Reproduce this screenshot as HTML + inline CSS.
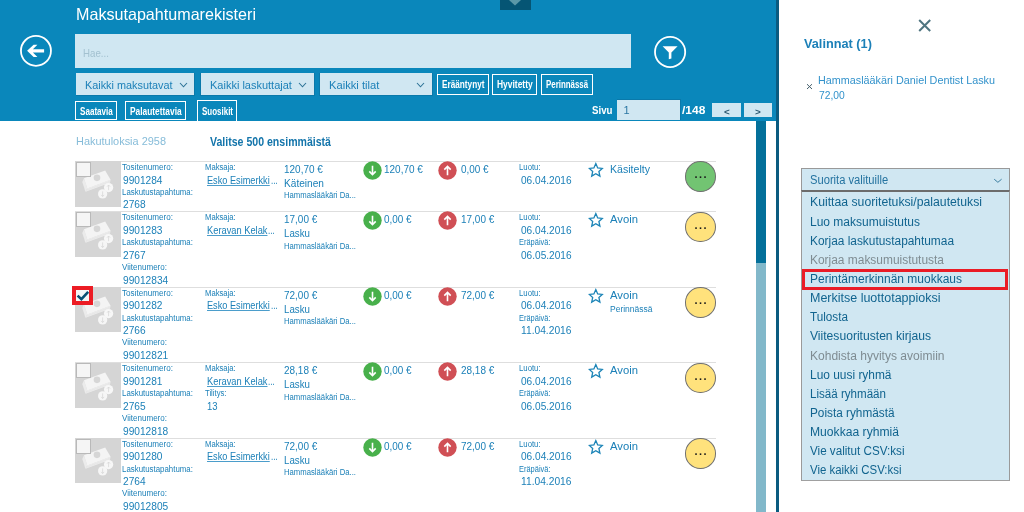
<!DOCTYPE html><html><head><meta charset="utf-8"><title>Maksutapahtumarekisteri</title><style>
html,body{margin:0;padding:0;background:#fff}body{width:1024px;height:512px;position:relative;overflow:hidden;font-family:"Liberation Sans", sans-serif}
</style></head><body>
<div style="position:absolute;left:0;top:0;width:776px;height:121px;background:#0a87bb"></div>
<div style="position:absolute;left:776px;top:0;width:2.6px;height:512px;background:#0a5b80"></div>
<div style="position:absolute;left:500px;top:0;width:31px;height:10.3px;background:#055574"></div>
<svg style="position:absolute;left:500px;top:0" width="31" height="10"><path d="M9 0 L15 5.6 L21 0Z" fill="#5b98a8"/></svg>
<svg style="position:absolute;left:18px;top:33px" width="36" height="36" viewBox="0 0 36 36"><circle cx="17.95" cy="17.85" r="15" fill="none" stroke="#fff" stroke-width="1.8"/><path d="M9.1 17.85 L15.6 11.8 H19.4 L14.9 16.2 H26.1 V19.5 H14.9 L19.4 23.9 H15.6Z" fill="#fff"/></svg>
<div style="position:absolute;left:75px;top:34px;width:556.3px;height:34px;background:#d0e7f2"></div>
<svg style="position:absolute;left:652px;top:34px" width="36" height="36" viewBox="0 0 36 36"><circle cx="18.1" cy="17.95" r="15.1" fill="none" stroke="#fff" stroke-width="1.8"/><path d="M10.6 12.2 H25.6 L19.4 18.5 V24.5 L16.8 25.2 V18.5Z" fill="#fff"/></svg>
<div style="position:absolute;left:75.60000000000001px;top:72.5px;width:119.69999999999999px;height:23px;background:#0a79aa"></div>
<div style="position:absolute;left:76.4px;top:73.3px;width:118.1px;height:21.5px;background:#d0e7f2"></div>
<svg style="position:absolute;left:178.75px;top:82px" width="10" height="7"><path d="M1 1 L4.5 4.8 L8 1" fill="none" stroke="#2d7397" stroke-width="1.1"/></svg>
<div style="position:absolute;left:200.2px;top:72.5px;width:114.49999999999997px;height:23px;background:#0a79aa"></div>
<div style="position:absolute;left:201px;top:73.3px;width:112.89999999999998px;height:21.5px;background:#d0e7f2"></div>
<svg style="position:absolute;left:297.9px;top:82px" width="10" height="7"><path d="M1 1 L4.5 4.8 L8 1" fill="none" stroke="#2d7397" stroke-width="1.1"/></svg>
<div style="position:absolute;left:319.3px;top:72.5px;width:113.24999999999997px;height:23px;background:#0a79aa"></div>
<div style="position:absolute;left:320.1px;top:73.3px;width:111.64999999999998px;height:21.5px;background:#d0e7f2"></div>
<svg style="position:absolute;left:415.75px;top:82px" width="10" height="7"><path d="M1 1 L4.5 4.8 L8 1" fill="none" stroke="#2d7397" stroke-width="1.1"/></svg>
<div style="position:absolute;left:437px;top:74px;width:51.5px;height:20.700000000000003px;box-sizing:border-box;border:1px solid #fff"></div>
<div style="position:absolute;left:492.3px;top:74px;width:44.80000000000001px;height:20.700000000000003px;box-sizing:border-box;border:1px solid #fff"></div>
<div style="position:absolute;left:541px;top:74px;width:51.799999999999955px;height:20.700000000000003px;box-sizing:border-box;border:1px solid #fff"></div>
<div style="position:absolute;left:75.1px;top:101.1px;width:41.900000000000006px;height:18.900000000000006px;box-sizing:border-box;border:1px solid #fff"></div>
<div style="position:absolute;left:124.9px;top:101.1px;width:61.0px;height:18.900000000000006px;box-sizing:border-box;border:1px solid #fff"></div>
<div style="position:absolute;left:197.25px;top:100.2px;width:40px;height:21.5px;box-sizing:border-box;border:1.5px solid #fff;border-bottom:none"></div>
<div style="position:absolute;left:616.5px;top:99.3px;width:64.3px;height:21px;background:#0a79aa"></div>
<div style="position:absolute;left:617.3px;top:100px;width:62.8px;height:19.6px;background:#d0e7f2"></div>
<div style="position:absolute;left:712px;top:102.6px;width:28.6px;height:14.8px;background:#d0e7f2"></div>
<div style="position:absolute;left:743.8px;top:102.6px;width:28.7px;height:14.8px;background:#d0e7f2"></div>
<div style="position:absolute;left:756px;top:121px;width:10px;height:142px;background:#04709a"></div>
<div style="position:absolute;left:756px;top:263px;width:10px;height:249px;background:#82b8ca"></div>
<div style="position:absolute;left:75px;top:160.75px;width:640.6px;height:1px;background:#dedede"></div>
<div style="position:absolute;left:75px;top:161.35px;width:45.6px;height:45.3px;background:#d5d5d5"><svg style="position:absolute;left:0;top:0" width="46" height="46" viewBox="0 0 45.6 45.4">
<path d="M8.9 17.1 L7.2 20.6 L10.4 30.4 L12.2 27.2Z" fill="#ebebeb"/>
<path d="M12.2 27.2 L35.3 18.6 L34.6 21.4 L10.4 30.4Z" fill="#f0f0f0"/>
<path d="M11.6 28.3 L35 19.6 M11 29.4 L34.8 20.6" stroke="#dddddd" stroke-width="0.4" fill="none"/>
<path d="M8.9 17.1 L29.9 9.4 L35.3 18.6 L12.2 27.2Z" fill="#f4f4f4"/>
<circle cx="21.8" cy="16.6" r="3.3" fill="#d6d6d6"/>
<circle cx="27.4" cy="32.5" r="4.6" fill="#f6f6f6"/>
<circle cx="33.3" cy="26.2" r="4.6" fill="#f7f7f7"/>
<path d="M33.3 28.8 V23.8 M31.8 25.3 L33.3 23.7 L34.8 25.3" stroke="#d8d8d8" stroke-width="0.8" fill="none"/>
<path d="M27.4 30 V35 M25.9 33.5 L27.4 35.1 L28.9 33.5" stroke="#d8d8d8" stroke-width="0.8" fill="none"/>
</svg></div>
<div style="position:absolute;left:75.5px;top:161.95px;width:15.3px;height:15px;box-sizing:border-box;border:1.6px solid #b9b9b9;background:#f5f5f5"></div>
<svg style="position:absolute;left:362.7px;top:160.8px" width="19" height="19" viewBox="0 0 19 19"><circle cx="9.5" cy="9.5" r="9.2" fill="#48b04b"/><path d="M9.5 4.8 V13.8 M6.3 10.4 L9.5 13.7 L12.7 10.4" stroke="#fff" stroke-width="1.6" fill="none"/></svg>
<svg style="position:absolute;left:438.25px;top:160.8px" width="19" height="19" viewBox="0 0 19 19"><circle cx="9.5" cy="9.5" r="9.2" fill="#d04f55"/><path d="M9.5 14.2 V5.2 M6.3 8.6 L9.5 5.3 L12.7 8.6" stroke="#fff" stroke-width="1.6" fill="none"/></svg>
<svg style="position:absolute;left:588px;top:162.05px" width="16" height="16" viewBox="0 0 16 16"><path d="M7.8 1.6 L9.7 5.9 L14.3 6.4 L10.9 9.5 L11.9 14.1 L7.8 11.7 L3.7 14.1 L4.7 9.5 L1.3 6.4 L5.9 5.9Z" fill="none" stroke="#1b84b7" stroke-width="1.3" stroke-linejoin="miter"/></svg>
<div style="position:absolute;left:685px;top:161.35px;width:30.8px;height:30.6px;box-sizing:border-box;border:1px solid #707070;border-radius:50%;background:#72c472"></div>
<div style="position:absolute;left:75px;top:211.1px;width:640.6px;height:1px;background:#dedede"></div>
<div style="position:absolute;left:75px;top:211.7px;width:45.6px;height:45.3px;background:#d5d5d5"><svg style="position:absolute;left:0;top:0" width="46" height="46" viewBox="0 0 45.6 45.4">
<path d="M8.9 17.1 L7.2 20.6 L10.4 30.4 L12.2 27.2Z" fill="#ebebeb"/>
<path d="M12.2 27.2 L35.3 18.6 L34.6 21.4 L10.4 30.4Z" fill="#f0f0f0"/>
<path d="M11.6 28.3 L35 19.6 M11 29.4 L34.8 20.6" stroke="#dddddd" stroke-width="0.4" fill="none"/>
<path d="M8.9 17.1 L29.9 9.4 L35.3 18.6 L12.2 27.2Z" fill="#f4f4f4"/>
<circle cx="21.8" cy="16.6" r="3.3" fill="#d6d6d6"/>
<circle cx="27.4" cy="32.5" r="4.6" fill="#f6f6f6"/>
<circle cx="33.3" cy="26.2" r="4.6" fill="#f7f7f7"/>
<path d="M33.3 28.8 V23.8 M31.8 25.3 L33.3 23.7 L34.8 25.3" stroke="#d8d8d8" stroke-width="0.8" fill="none"/>
<path d="M27.4 30 V35 M25.9 33.5 L27.4 35.1 L28.9 33.5" stroke="#d8d8d8" stroke-width="0.8" fill="none"/>
</svg></div>
<div style="position:absolute;left:75.5px;top:212.29999999999998px;width:15.3px;height:15px;box-sizing:border-box;border:1.6px solid #b9b9b9;background:#f5f5f5"></div>
<svg style="position:absolute;left:362.7px;top:211.15px" width="19" height="19" viewBox="0 0 19 19"><circle cx="9.5" cy="9.5" r="9.2" fill="#48b04b"/><path d="M9.5 4.8 V13.8 M6.3 10.4 L9.5 13.7 L12.7 10.4" stroke="#fff" stroke-width="1.6" fill="none"/></svg>
<svg style="position:absolute;left:438.25px;top:211.15px" width="19" height="19" viewBox="0 0 19 19"><circle cx="9.5" cy="9.5" r="9.2" fill="#d04f55"/><path d="M9.5 14.2 V5.2 M6.3 8.6 L9.5 5.3 L12.7 8.6" stroke="#fff" stroke-width="1.6" fill="none"/></svg>
<svg style="position:absolute;left:588px;top:212.4px" width="16" height="16" viewBox="0 0 16 16"><path d="M7.8 1.6 L9.7 5.9 L14.3 6.4 L10.9 9.5 L11.9 14.1 L7.8 11.7 L3.7 14.1 L4.7 9.5 L1.3 6.4 L5.9 5.9Z" fill="none" stroke="#1b84b7" stroke-width="1.3" stroke-linejoin="miter"/></svg>
<div style="position:absolute;left:685px;top:211.7px;width:30.8px;height:30.6px;box-sizing:border-box;border:1px solid #707070;border-radius:50%;background:#ffe27c"></div>
<div style="position:absolute;left:75px;top:286.6px;width:640.6px;height:1px;background:#dedede"></div>
<div style="position:absolute;left:75px;top:287.20000000000005px;width:45.6px;height:45.3px;background:#d5d5d5"><svg style="position:absolute;left:0;top:0" width="46" height="46" viewBox="0 0 45.6 45.4">
<path d="M8.9 17.1 L7.2 20.6 L10.4 30.4 L12.2 27.2Z" fill="#ebebeb"/>
<path d="M12.2 27.2 L35.3 18.6 L34.6 21.4 L10.4 30.4Z" fill="#f0f0f0"/>
<path d="M11.6 28.3 L35 19.6 M11 29.4 L34.8 20.6" stroke="#dddddd" stroke-width="0.4" fill="none"/>
<path d="M8.9 17.1 L29.9 9.4 L35.3 18.6 L12.2 27.2Z" fill="#f4f4f4"/>
<circle cx="21.8" cy="16.6" r="3.3" fill="#d6d6d6"/>
<circle cx="27.4" cy="32.5" r="4.6" fill="#f6f6f6"/>
<circle cx="33.3" cy="26.2" r="4.6" fill="#f7f7f7"/>
<path d="M33.3 28.8 V23.8 M31.8 25.3 L33.3 23.7 L34.8 25.3" stroke="#d8d8d8" stroke-width="0.8" fill="none"/>
<path d="M27.4 30 V35 M25.9 33.5 L27.4 35.1 L28.9 33.5" stroke="#d8d8d8" stroke-width="0.8" fill="none"/>
</svg></div>
<div style="position:absolute;left:72.1px;top:285.90000000000003px;width:20.8px;height:19px;box-sizing:border-box;border:4px solid #ec1c24;background:#f4f6f6"></div>
<svg style="position:absolute;left:72px;top:285.90000000000003px" width="21" height="19" viewBox="0 0 21 19"><path d="M5.6 9.6 L9.4 13.2 L16.2 5.9" fill="none" stroke="#0a4f72" stroke-width="2.6"/></svg>
<svg style="position:absolute;left:362.7px;top:286.65000000000003px" width="19" height="19" viewBox="0 0 19 19"><circle cx="9.5" cy="9.5" r="9.2" fill="#48b04b"/><path d="M9.5 4.8 V13.8 M6.3 10.4 L9.5 13.7 L12.7 10.4" stroke="#fff" stroke-width="1.6" fill="none"/></svg>
<svg style="position:absolute;left:438.25px;top:286.65000000000003px" width="19" height="19" viewBox="0 0 19 19"><circle cx="9.5" cy="9.5" r="9.2" fill="#d04f55"/><path d="M9.5 14.2 V5.2 M6.3 8.6 L9.5 5.3 L12.7 8.6" stroke="#fff" stroke-width="1.6" fill="none"/></svg>
<svg style="position:absolute;left:588px;top:287.90000000000003px" width="16" height="16" viewBox="0 0 16 16"><path d="M7.8 1.6 L9.7 5.9 L14.3 6.4 L10.9 9.5 L11.9 14.1 L7.8 11.7 L3.7 14.1 L4.7 9.5 L1.3 6.4 L5.9 5.9Z" fill="none" stroke="#1b84b7" stroke-width="1.3" stroke-linejoin="miter"/></svg>
<div style="position:absolute;left:685px;top:287.20000000000005px;width:30.8px;height:30.6px;box-sizing:border-box;border:1px solid #707070;border-radius:50%;background:#ffe27c"></div>
<div style="position:absolute;left:75px;top:362.1px;width:640.6px;height:1px;background:#dedede"></div>
<div style="position:absolute;left:75px;top:362.70000000000005px;width:45.6px;height:45.3px;background:#d5d5d5"><svg style="position:absolute;left:0;top:0" width="46" height="46" viewBox="0 0 45.6 45.4">
<path d="M8.9 17.1 L7.2 20.6 L10.4 30.4 L12.2 27.2Z" fill="#ebebeb"/>
<path d="M12.2 27.2 L35.3 18.6 L34.6 21.4 L10.4 30.4Z" fill="#f0f0f0"/>
<path d="M11.6 28.3 L35 19.6 M11 29.4 L34.8 20.6" stroke="#dddddd" stroke-width="0.4" fill="none"/>
<path d="M8.9 17.1 L29.9 9.4 L35.3 18.6 L12.2 27.2Z" fill="#f4f4f4"/>
<circle cx="21.8" cy="16.6" r="3.3" fill="#d6d6d6"/>
<circle cx="27.4" cy="32.5" r="4.6" fill="#f6f6f6"/>
<circle cx="33.3" cy="26.2" r="4.6" fill="#f7f7f7"/>
<path d="M33.3 28.8 V23.8 M31.8 25.3 L33.3 23.7 L34.8 25.3" stroke="#d8d8d8" stroke-width="0.8" fill="none"/>
<path d="M27.4 30 V35 M25.9 33.5 L27.4 35.1 L28.9 33.5" stroke="#d8d8d8" stroke-width="0.8" fill="none"/>
</svg></div>
<div style="position:absolute;left:75.5px;top:363.3px;width:15.3px;height:15px;box-sizing:border-box;border:1.6px solid #b9b9b9;background:#f5f5f5"></div>
<svg style="position:absolute;left:362.7px;top:362.15000000000003px" width="19" height="19" viewBox="0 0 19 19"><circle cx="9.5" cy="9.5" r="9.2" fill="#48b04b"/><path d="M9.5 4.8 V13.8 M6.3 10.4 L9.5 13.7 L12.7 10.4" stroke="#fff" stroke-width="1.6" fill="none"/></svg>
<svg style="position:absolute;left:438.25px;top:362.15000000000003px" width="19" height="19" viewBox="0 0 19 19"><circle cx="9.5" cy="9.5" r="9.2" fill="#d04f55"/><path d="M9.5 14.2 V5.2 M6.3 8.6 L9.5 5.3 L12.7 8.6" stroke="#fff" stroke-width="1.6" fill="none"/></svg>
<svg style="position:absolute;left:588px;top:363.40000000000003px" width="16" height="16" viewBox="0 0 16 16"><path d="M7.8 1.6 L9.7 5.9 L14.3 6.4 L10.9 9.5 L11.9 14.1 L7.8 11.7 L3.7 14.1 L4.7 9.5 L1.3 6.4 L5.9 5.9Z" fill="none" stroke="#1b84b7" stroke-width="1.3" stroke-linejoin="miter"/></svg>
<div style="position:absolute;left:685px;top:362.70000000000005px;width:30.8px;height:30.6px;box-sizing:border-box;border:1px solid #707070;border-radius:50%;background:#ffe27c"></div>
<div style="position:absolute;left:75px;top:437.6px;width:640.6px;height:1px;background:#dedede"></div>
<div style="position:absolute;left:75px;top:438.20000000000005px;width:45.6px;height:45.3px;background:#d5d5d5"><svg style="position:absolute;left:0;top:0" width="46" height="46" viewBox="0 0 45.6 45.4">
<path d="M8.9 17.1 L7.2 20.6 L10.4 30.4 L12.2 27.2Z" fill="#ebebeb"/>
<path d="M12.2 27.2 L35.3 18.6 L34.6 21.4 L10.4 30.4Z" fill="#f0f0f0"/>
<path d="M11.6 28.3 L35 19.6 M11 29.4 L34.8 20.6" stroke="#dddddd" stroke-width="0.4" fill="none"/>
<path d="M8.9 17.1 L29.9 9.4 L35.3 18.6 L12.2 27.2Z" fill="#f4f4f4"/>
<circle cx="21.8" cy="16.6" r="3.3" fill="#d6d6d6"/>
<circle cx="27.4" cy="32.5" r="4.6" fill="#f6f6f6"/>
<circle cx="33.3" cy="26.2" r="4.6" fill="#f7f7f7"/>
<path d="M33.3 28.8 V23.8 M31.8 25.3 L33.3 23.7 L34.8 25.3" stroke="#d8d8d8" stroke-width="0.8" fill="none"/>
<path d="M27.4 30 V35 M25.9 33.5 L27.4 35.1 L28.9 33.5" stroke="#d8d8d8" stroke-width="0.8" fill="none"/>
</svg></div>
<div style="position:absolute;left:75.5px;top:438.8px;width:15.3px;height:15px;box-sizing:border-box;border:1.6px solid #b9b9b9;background:#f5f5f5"></div>
<svg style="position:absolute;left:362.7px;top:437.65000000000003px" width="19" height="19" viewBox="0 0 19 19"><circle cx="9.5" cy="9.5" r="9.2" fill="#48b04b"/><path d="M9.5 4.8 V13.8 M6.3 10.4 L9.5 13.7 L12.7 10.4" stroke="#fff" stroke-width="1.6" fill="none"/></svg>
<svg style="position:absolute;left:438.25px;top:437.65000000000003px" width="19" height="19" viewBox="0 0 19 19"><circle cx="9.5" cy="9.5" r="9.2" fill="#d04f55"/><path d="M9.5 14.2 V5.2 M6.3 8.6 L9.5 5.3 L12.7 8.6" stroke="#fff" stroke-width="1.6" fill="none"/></svg>
<svg style="position:absolute;left:588px;top:438.90000000000003px" width="16" height="16" viewBox="0 0 16 16"><path d="M7.8 1.6 L9.7 5.9 L14.3 6.4 L10.9 9.5 L11.9 14.1 L7.8 11.7 L3.7 14.1 L4.7 9.5 L1.3 6.4 L5.9 5.9Z" fill="none" stroke="#1b84b7" stroke-width="1.3" stroke-linejoin="miter"/></svg>
<div style="position:absolute;left:685px;top:438.20000000000005px;width:30.8px;height:30.6px;box-sizing:border-box;border:1px solid #707070;border-radius:50%;background:#ffe27c"></div>
<svg style="position:absolute;left:916px;top:17px" width="18" height="18"><path d="M3.2 3 L14.2 14 M14.2 3 L3.2 14" stroke="#4f7580" stroke-width="2" fill="none"/></svg>
<svg style="position:absolute;left:806px;top:83px" width="8" height="8"><path d="M1 1.2 L6 6 M6 1.2 L1 6" stroke="#46606c" stroke-width="1" fill="none"/></svg>
<div style="position:absolute;left:801px;top:168px;width:209px;height:23px;background:#d0e7f2;box-sizing:border-box;border:1px solid #999"></div>
<svg style="position:absolute;left:992.5px;top:177.5px" width="10" height="6"><path d="M1.2 1.2 L4.9 4.3 L8.6 1.2" fill="none" stroke="#2d7397" stroke-width="0.9"/></svg>
<div style="position:absolute;left:801px;top:190px;width:209px;height:291px;background:#d0e7f2;box-sizing:border-box;border:1px solid #9a9a9a;border-top:2px solid #6c6c6c;border-bottom:1.5px solid #a0a0a0"></div>
<div style="position:absolute;left:802.2px;top:268.7px;width:206px;height:21.3px;box-sizing:border-box;border:3px solid #ea1c26"></div>
<span style="position:absolute;white-space:pre;left:76px;top:4px;font-size:16.5px;line-height:20px;color:#ffffff;font-weight:400;transform-origin:0 0;transform:scaleX(0.9765);">Maksutapahtumarekisteri</span>
<span style="position:absolute;white-space:pre;left:82.6px;top:43px;font-size:11px;line-height:20px;color:#a3c1d0;font-weight:400;transform-origin:0 0;transform:scaleX(0.8822);">Hae...</span>
<span style="position:absolute;white-space:pre;left:84.5px;top:75px;font-size:11.5px;line-height:20px;color:#1c80b8;font-weight:400;transform-origin:0 0;transform:scaleX(0.9440);">Kaikki maksutavat</span>
<span style="position:absolute;white-space:pre;left:209.5px;top:75px;font-size:11.5px;line-height:20px;color:#1c80b8;font-weight:400;transform-origin:0 0;transform:scaleX(0.9561);">Kaikki laskuttajat</span>
<span style="position:absolute;white-space:pre;left:328.6px;top:75px;font-size:11.5px;line-height:20px;color:#1c80b8;font-weight:400;transform-origin:0 0;transform:scaleX(0.9714);">Kaikki tilat</span>
<span style="position:absolute;white-space:pre;left:442px;top:75px;font-size:10px;line-height:20px;color:#ffffff;font-weight:700;transform-origin:0 0;transform:scaleX(0.8222);">Erääntynyt</span>
<span style="position:absolute;white-space:pre;left:497.3px;top:75px;font-size:10px;line-height:20px;color:#ffffff;font-weight:700;transform-origin:0 0;transform:scaleX(0.8450);">Hyvitetty</span>
<span style="position:absolute;white-space:pre;left:546px;top:75px;font-size:10px;line-height:20px;color:#ffffff;font-weight:700;transform-origin:0 0;transform:scaleX(0.7888);">Perinnässä</span>
<span style="position:absolute;white-space:pre;left:79.75px;top:102px;font-size:10px;line-height:20px;color:#ffffff;font-weight:700;transform-origin:0 0;transform:scaleX(0.8092);">Saatavia</span>
<span style="position:absolute;white-space:pre;left:129.75px;top:102px;font-size:10px;line-height:20px;color:#ffffff;font-weight:700;transform-origin:0 0;transform:scaleX(0.8371);">Palautettavia</span>
<span style="position:absolute;white-space:pre;left:202px;top:102px;font-size:10px;line-height:20px;color:#ffffff;font-weight:700;transform-origin:0 0;transform:scaleX(0.7968);">Suosikit</span>
<span style="position:absolute;white-space:pre;left:591.8px;top:100px;font-size:11px;line-height:20px;color:#ffffff;font-weight:700;transform-origin:0 0;transform:scaleX(0.8823);">Sivu</span>
<span style="position:absolute;white-space:pre;left:623.4px;top:100px;font-size:11px;line-height:20px;color:#2a76a3;font-weight:400;transform-origin:0 0;transform:scaleX(1.0000);">1</span>
<span style="position:absolute;white-space:pre;left:682.2px;top:100px;font-size:11px;line-height:20px;color:#ffffff;font-weight:700;transform-origin:0 0;transform:scaleX(1.0877);">/148</span>
<span style="position:absolute;white-space:pre;left:723.6px;top:102px;font-size:9.5px;line-height:20px;color:#2b5870;font-weight:700;transform-origin:0 0;transform:scaleX(1.0427);">&lt;</span>
<span style="position:absolute;white-space:pre;left:755.4px;top:102px;font-size:9.5px;line-height:20px;color:#2b5870;font-weight:700;transform-origin:0 0;transform:scaleX(1.0427);">&gt;</span>
<span style="position:absolute;white-space:pre;left:75.5px;top:131px;font-size:11.5px;line-height:20px;color:#86bcd9;font-weight:400;transform-origin:0 0;transform:scaleX(0.9511);">Hakutuloksia 2958</span>
<span style="position:absolute;white-space:pre;left:210px;top:132px;font-size:12px;line-height:20px;color:#1475ab;font-weight:700;transform-origin:0 0;transform:scaleX(0.8805);">Valitse 500 ensimmäistä</span>
<span style="position:absolute;white-space:pre;left:121.5px;top:157px;font-size:8.5px;line-height:20px;color:#1c80b8;font-weight:400;transform-origin:0 0;transform:scaleX(0.9534);">Tositenumero:</span>
<span style="position:absolute;white-space:pre;left:123.3px;top:170px;font-size:10.5px;line-height:20px;color:#1c80b8;font-weight:400;transform-origin:0 0;transform:scaleX(0.9660);">9901284</span>
<span style="position:absolute;white-space:pre;left:121.5px;top:182px;font-size:8.5px;line-height:20px;color:#1c80b8;font-weight:400;transform-origin:0 0;transform:scaleX(0.9260);">Laskutustapahtuma:</span>
<span style="position:absolute;white-space:pre;left:123.4px;top:194px;font-size:10.5px;line-height:20px;color:#1c80b8;font-weight:400;transform-origin:0 0;transform:scaleX(0.9675);">2768</span>
<span style="position:absolute;white-space:pre;left:204.5px;top:157px;font-size:8.5px;line-height:20px;color:#1c80b8;font-weight:400;transform-origin:0 0;transform:scaleX(0.9040);">Maksaja:</span>
<span style="position:absolute;white-space:pre;left:207.25px;top:170px;font-size:10.5px;line-height:20px;color:#1c80b8;font-weight:400;transform-origin:0 0;transform:scaleX(0.8744);text-decoration:underline;text-underline-offset:1px;text-decoration-thickness:1px;text-decoration-color:#4b9dcb;">Esko Esimerkki</span>
<span style="position:absolute;white-space:pre;left:270.5px;top:170px;font-size:10.5px;line-height:20px;color:#1c80b8;font-weight:400;transform-origin:0 0;transform:scaleX(0.7701);">...</span>
<span style="position:absolute;white-space:pre;left:284px;top:159px;font-size:10.5px;line-height:20px;color:#1c80b8;font-weight:400;transform-origin:0 0;transform:scaleX(0.9520);">120,70 €</span>
<span style="position:absolute;white-space:pre;left:284.3px;top:173px;font-size:10.5px;line-height:20px;color:#1c80b8;font-weight:400;transform-origin:0 0;transform:scaleX(0.9649);">Käteinen</span>
<span style="position:absolute;white-space:pre;left:284.3px;top:185px;font-size:8.5px;line-height:20px;color:#1c80b8;font-weight:400;transform-origin:0 0;transform:scaleX(0.9073);">Hammaslääkäri Da...</span>
<span style="position:absolute;white-space:pre;left:383.75px;top:159px;font-size:10.5px;line-height:20px;color:#1c80b8;font-weight:400;transform-origin:0 0;transform:scaleX(0.9520);">120,70 €</span>
<span style="position:absolute;white-space:pre;left:461px;top:159px;font-size:10.5px;line-height:20px;color:#1c80b8;font-weight:400;transform-origin:0 0;transform:scaleX(0.9461);">0,00 €</span>
<span style="position:absolute;white-space:pre;left:518.5px;top:157px;font-size:8.5px;line-height:20px;color:#1c80b8;font-weight:400;transform-origin:0 0;transform:scaleX(0.9137);">Luotu:</span>
<span style="position:absolute;white-space:pre;left:520.5px;top:170px;font-size:10.5px;line-height:20px;color:#1c80b8;font-weight:400;transform-origin:0 0;transform:scaleX(0.9608);">06.04.2016</span>
<span style="position:absolute;white-space:pre;left:610px;top:159px;font-size:11px;line-height:20px;color:#1c80b8;font-weight:400;transform-origin:0 0;transform:scaleX(0.9620);">Käsitelty</span>
<span style="position:absolute;white-space:pre;left:694.6px;top:164px;font-size:11px;line-height:20px;color:#1a1a1a;font-weight:700;transform-origin:0 0;transform:scaleX(1.0000);letter-spacing:1.35px;">...</span>
<span style="position:absolute;white-space:pre;left:121.5px;top:207px;font-size:8.5px;line-height:20px;color:#1c80b8;font-weight:400;transform-origin:0 0;transform:scaleX(0.9534);">Tositenumero:</span>
<span style="position:absolute;white-space:pre;left:123.3px;top:220px;font-size:10.5px;line-height:20px;color:#1c80b8;font-weight:400;transform-origin:0 0;transform:scaleX(0.9660);">9901283</span>
<span style="position:absolute;white-space:pre;left:121.5px;top:232px;font-size:8.5px;line-height:20px;color:#1c80b8;font-weight:400;transform-origin:0 0;transform:scaleX(0.9260);">Laskutustapahtuma:</span>
<span style="position:absolute;white-space:pre;left:123.4px;top:245px;font-size:10.5px;line-height:20px;color:#1c80b8;font-weight:400;transform-origin:0 0;transform:scaleX(0.9675);">2767</span>
<span style="position:absolute;white-space:pre;left:121.5px;top:257px;font-size:8.5px;line-height:20px;color:#1c80b8;font-weight:400;transform-origin:0 0;transform:scaleX(0.9458);">Viitenumero:</span>
<span style="position:absolute;white-space:pre;left:123.4px;top:270px;font-size:10.5px;line-height:20px;color:#1c80b8;font-weight:400;transform-origin:0 0;transform:scaleX(0.9675);">99012834</span>
<span style="position:absolute;white-space:pre;left:204.5px;top:207px;font-size:8.5px;line-height:20px;color:#1c80b8;font-weight:400;transform-origin:0 0;transform:scaleX(0.9040);">Maksaja:</span>
<span style="position:absolute;white-space:pre;left:207.25px;top:220px;font-size:10.5px;line-height:20px;color:#1c80b8;font-weight:400;transform-origin:0 0;transform:scaleX(0.8858);text-decoration:underline;text-underline-offset:1px;text-decoration-thickness:1px;text-decoration-color:#4b9dcb;">Keravan Kelak</span>
<span style="position:absolute;white-space:pre;left:268.25px;top:220px;font-size:10.5px;line-height:20px;color:#1c80b8;font-weight:400;transform-origin:0 0;transform:scaleX(0.7701);">...</span>
<span style="position:absolute;white-space:pre;left:284px;top:209px;font-size:10.5px;line-height:20px;color:#1c80b8;font-weight:400;transform-origin:0 0;transform:scaleX(0.9493);">17,00 €</span>
<span style="position:absolute;white-space:pre;left:284.3px;top:223px;font-size:10.5px;line-height:20px;color:#1c80b8;font-weight:400;transform-origin:0 0;transform:scaleX(0.9275);">Lasku</span>
<span style="position:absolute;white-space:pre;left:284.3px;top:236px;font-size:8.5px;line-height:20px;color:#1c80b8;font-weight:400;transform-origin:0 0;transform:scaleX(0.9073);">Hammaslääkäri Da...</span>
<span style="position:absolute;white-space:pre;left:383.75px;top:209px;font-size:10.5px;line-height:20px;color:#1c80b8;font-weight:400;transform-origin:0 0;transform:scaleX(0.9461);">0,00 €</span>
<span style="position:absolute;white-space:pre;left:461px;top:209px;font-size:10.5px;line-height:20px;color:#1c80b8;font-weight:400;transform-origin:0 0;transform:scaleX(0.9493);">17,00 €</span>
<span style="position:absolute;white-space:pre;left:518.5px;top:207px;font-size:8.5px;line-height:20px;color:#1c80b8;font-weight:400;transform-origin:0 0;transform:scaleX(0.9137);">Luotu:</span>
<span style="position:absolute;white-space:pre;left:520.5px;top:220px;font-size:10.5px;line-height:20px;color:#1c80b8;font-weight:400;transform-origin:0 0;transform:scaleX(0.9608);">06.04.2016</span>
<span style="position:absolute;white-space:pre;left:518.5px;top:232px;font-size:8.5px;line-height:20px;color:#1c80b8;font-weight:400;transform-origin:0 0;transform:scaleX(0.8769);">Eräpäivä:</span>
<span style="position:absolute;white-space:pre;left:520.5px;top:245px;font-size:10.5px;line-height:20px;color:#1c80b8;font-weight:400;transform-origin:0 0;transform:scaleX(0.9608);">06.05.2016</span>
<span style="position:absolute;white-space:pre;left:610px;top:209px;font-size:11px;line-height:20px;color:#1c80b8;font-weight:400;transform-origin:0 0;transform:scaleX(1.0246);">Avoin</span>
<span style="position:absolute;white-space:pre;left:694.6px;top:215px;font-size:11px;line-height:20px;color:#1a1a1a;font-weight:700;transform-origin:0 0;transform:scaleX(1.0000);letter-spacing:1.35px;">...</span>
<span style="position:absolute;white-space:pre;left:121.5px;top:283px;font-size:8.5px;line-height:20px;color:#1c80b8;font-weight:400;transform-origin:0 0;transform:scaleX(0.9534);">Tositenumero:</span>
<span style="position:absolute;white-space:pre;left:123.3px;top:295px;font-size:10.5px;line-height:20px;color:#1c80b8;font-weight:400;transform-origin:0 0;transform:scaleX(0.9660);">9901282</span>
<span style="position:absolute;white-space:pre;left:121.5px;top:308px;font-size:8.5px;line-height:20px;color:#1c80b8;font-weight:400;transform-origin:0 0;transform:scaleX(0.9260);">Laskutustapahtuma:</span>
<span style="position:absolute;white-space:pre;left:123.4px;top:320px;font-size:10.5px;line-height:20px;color:#1c80b8;font-weight:400;transform-origin:0 0;transform:scaleX(0.9675);">2766</span>
<span style="position:absolute;white-space:pre;left:121.5px;top:332px;font-size:8.5px;line-height:20px;color:#1c80b8;font-weight:400;transform-origin:0 0;transform:scaleX(0.9458);">Viitenumero:</span>
<span style="position:absolute;white-space:pre;left:123.4px;top:345px;font-size:10.5px;line-height:20px;color:#1c80b8;font-weight:400;transform-origin:0 0;transform:scaleX(0.9675);">99012821</span>
<span style="position:absolute;white-space:pre;left:204.5px;top:283px;font-size:8.5px;line-height:20px;color:#1c80b8;font-weight:400;transform-origin:0 0;transform:scaleX(0.9040);">Maksaja:</span>
<span style="position:absolute;white-space:pre;left:207.25px;top:295px;font-size:10.5px;line-height:20px;color:#1c80b8;font-weight:400;transform-origin:0 0;transform:scaleX(0.8744);text-decoration:underline;text-underline-offset:1px;text-decoration-thickness:1px;text-decoration-color:#4b9dcb;">Esko Esimerkki</span>
<span style="position:absolute;white-space:pre;left:270.5px;top:295px;font-size:10.5px;line-height:20px;color:#1c80b8;font-weight:400;transform-origin:0 0;transform:scaleX(0.7701);">...</span>
<span style="position:absolute;white-space:pre;left:284px;top:285px;font-size:10.5px;line-height:20px;color:#1c80b8;font-weight:400;transform-origin:0 0;transform:scaleX(0.9493);">72,00 €</span>
<span style="position:absolute;white-space:pre;left:284.3px;top:299px;font-size:10.5px;line-height:20px;color:#1c80b8;font-weight:400;transform-origin:0 0;transform:scaleX(0.9275);">Lasku</span>
<span style="position:absolute;white-space:pre;left:284.3px;top:311px;font-size:8.5px;line-height:20px;color:#1c80b8;font-weight:400;transform-origin:0 0;transform:scaleX(0.9073);">Hammaslääkäri Da...</span>
<span style="position:absolute;white-space:pre;left:383.75px;top:285px;font-size:10.5px;line-height:20px;color:#1c80b8;font-weight:400;transform-origin:0 0;transform:scaleX(0.9461);">0,00 €</span>
<span style="position:absolute;white-space:pre;left:461px;top:285px;font-size:10.5px;line-height:20px;color:#1c80b8;font-weight:400;transform-origin:0 0;transform:scaleX(0.9493);">72,00 €</span>
<span style="position:absolute;white-space:pre;left:518.5px;top:283px;font-size:8.5px;line-height:20px;color:#1c80b8;font-weight:400;transform-origin:0 0;transform:scaleX(0.9137);">Luotu:</span>
<span style="position:absolute;white-space:pre;left:520.5px;top:295px;font-size:10.5px;line-height:20px;color:#1c80b8;font-weight:400;transform-origin:0 0;transform:scaleX(0.9608);">06.04.2016</span>
<span style="position:absolute;white-space:pre;left:518.5px;top:308px;font-size:8.5px;line-height:20px;color:#1c80b8;font-weight:400;transform-origin:0 0;transform:scaleX(0.8769);">Eräpäivä:</span>
<span style="position:absolute;white-space:pre;left:520.5px;top:320px;font-size:10.5px;line-height:20px;color:#1c80b8;font-weight:400;transform-origin:0 0;transform:scaleX(0.9753);">11.04.2016</span>
<span style="position:absolute;white-space:pre;left:610px;top:285px;font-size:11px;line-height:20px;color:#1c80b8;font-weight:400;transform-origin:0 0;transform:scaleX(1.0246);">Avoin</span>
<span style="position:absolute;white-space:pre;left:609.8px;top:299px;font-size:8.5px;line-height:20px;color:#1c80b8;font-weight:400;transform-origin:0 0;transform:scaleX(0.9993);">Perinnässä</span>
<span style="position:absolute;white-space:pre;left:694.6px;top:290px;font-size:11px;line-height:20px;color:#1a1a1a;font-weight:700;transform-origin:0 0;transform:scaleX(1.0000);letter-spacing:1.35px;">...</span>
<span style="position:absolute;white-space:pre;left:121.5px;top:358px;font-size:8.5px;line-height:20px;color:#1c80b8;font-weight:400;transform-origin:0 0;transform:scaleX(0.9534);">Tositenumero:</span>
<span style="position:absolute;white-space:pre;left:123.3px;top:371px;font-size:10.5px;line-height:20px;color:#1c80b8;font-weight:400;transform-origin:0 0;transform:scaleX(0.9660);">9901281</span>
<span style="position:absolute;white-space:pre;left:121.5px;top:383px;font-size:8.5px;line-height:20px;color:#1c80b8;font-weight:400;transform-origin:0 0;transform:scaleX(0.9260);">Laskutustapahtuma:</span>
<span style="position:absolute;white-space:pre;left:123.4px;top:396px;font-size:10.5px;line-height:20px;color:#1c80b8;font-weight:400;transform-origin:0 0;transform:scaleX(0.9675);">2765</span>
<span style="position:absolute;white-space:pre;left:121.5px;top:408px;font-size:8.5px;line-height:20px;color:#1c80b8;font-weight:400;transform-origin:0 0;transform:scaleX(0.9458);">Viitenumero:</span>
<span style="position:absolute;white-space:pre;left:123.4px;top:421px;font-size:10.5px;line-height:20px;color:#1c80b8;font-weight:400;transform-origin:0 0;transform:scaleX(0.9675);">99012818</span>
<span style="position:absolute;white-space:pre;left:204.5px;top:358px;font-size:8.5px;line-height:20px;color:#1c80b8;font-weight:400;transform-origin:0 0;transform:scaleX(0.9040);">Maksaja:</span>
<span style="position:absolute;white-space:pre;left:207.25px;top:371px;font-size:10.5px;line-height:20px;color:#1c80b8;font-weight:400;transform-origin:0 0;transform:scaleX(0.8858);text-decoration:underline;text-underline-offset:1px;text-decoration-thickness:1px;text-decoration-color:#4b9dcb;">Keravan Kelak</span>
<span style="position:absolute;white-space:pre;left:268.25px;top:371px;font-size:10.5px;line-height:20px;color:#1c80b8;font-weight:400;transform-origin:0 0;transform:scaleX(0.7701);">...</span>
<span style="position:absolute;white-space:pre;left:204.5px;top:383px;font-size:8.5px;line-height:20px;color:#1c80b8;font-weight:400;transform-origin:0 0;transform:scaleX(0.9047);">Tilitys:</span>
<span style="position:absolute;white-space:pre;left:206.6px;top:396px;font-size:10.5px;line-height:20px;color:#1c80b8;font-weight:400;transform-origin:0 0;transform:scaleX(0.9070);">13</span>
<span style="position:absolute;white-space:pre;left:284px;top:360px;font-size:10.5px;line-height:20px;color:#1c80b8;font-weight:400;transform-origin:0 0;transform:scaleX(0.9493);">28,18 €</span>
<span style="position:absolute;white-space:pre;left:284.3px;top:374px;font-size:10.5px;line-height:20px;color:#1c80b8;font-weight:400;transform-origin:0 0;transform:scaleX(0.9275);">Lasku</span>
<span style="position:absolute;white-space:pre;left:284.3px;top:387px;font-size:8.5px;line-height:20px;color:#1c80b8;font-weight:400;transform-origin:0 0;transform:scaleX(0.9073);">Hammaslääkäri Da...</span>
<span style="position:absolute;white-space:pre;left:383.75px;top:360px;font-size:10.5px;line-height:20px;color:#1c80b8;font-weight:400;transform-origin:0 0;transform:scaleX(0.9461);">0,00 €</span>
<span style="position:absolute;white-space:pre;left:461px;top:360px;font-size:10.5px;line-height:20px;color:#1c80b8;font-weight:400;transform-origin:0 0;transform:scaleX(0.9493);">28,18 €</span>
<span style="position:absolute;white-space:pre;left:518.5px;top:358px;font-size:8.5px;line-height:20px;color:#1c80b8;font-weight:400;transform-origin:0 0;transform:scaleX(0.9137);">Luotu:</span>
<span style="position:absolute;white-space:pre;left:520.5px;top:371px;font-size:10.5px;line-height:20px;color:#1c80b8;font-weight:400;transform-origin:0 0;transform:scaleX(0.9608);">06.04.2016</span>
<span style="position:absolute;white-space:pre;left:518.5px;top:383px;font-size:8.5px;line-height:20px;color:#1c80b8;font-weight:400;transform-origin:0 0;transform:scaleX(0.8769);">Eräpäivä:</span>
<span style="position:absolute;white-space:pre;left:520.5px;top:396px;font-size:10.5px;line-height:20px;color:#1c80b8;font-weight:400;transform-origin:0 0;transform:scaleX(0.9608);">06.05.2016</span>
<span style="position:absolute;white-space:pre;left:610px;top:360px;font-size:11px;line-height:20px;color:#1c80b8;font-weight:400;transform-origin:0 0;transform:scaleX(1.0246);">Avoin</span>
<span style="position:absolute;white-space:pre;left:694.6px;top:366px;font-size:11px;line-height:20px;color:#1a1a1a;font-weight:700;transform-origin:0 0;transform:scaleX(1.0000);letter-spacing:1.35px;">...</span>
<span style="position:absolute;white-space:pre;left:121.5px;top:434px;font-size:8.5px;line-height:20px;color:#1c80b8;font-weight:400;transform-origin:0 0;transform:scaleX(0.9534);">Tositenumero:</span>
<span style="position:absolute;white-space:pre;left:123.3px;top:446px;font-size:10.5px;line-height:20px;color:#1c80b8;font-weight:400;transform-origin:0 0;transform:scaleX(0.9660);">9901280</span>
<span style="position:absolute;white-space:pre;left:121.5px;top:459px;font-size:8.5px;line-height:20px;color:#1c80b8;font-weight:400;transform-origin:0 0;transform:scaleX(0.9260);">Laskutustapahtuma:</span>
<span style="position:absolute;white-space:pre;left:123.4px;top:471px;font-size:10.5px;line-height:20px;color:#1c80b8;font-weight:400;transform-origin:0 0;transform:scaleX(0.9675);">2764</span>
<span style="position:absolute;white-space:pre;left:121.5px;top:483px;font-size:8.5px;line-height:20px;color:#1c80b8;font-weight:400;transform-origin:0 0;transform:scaleX(0.9458);">Viitenumero:</span>
<span style="position:absolute;white-space:pre;left:123.4px;top:496px;font-size:10.5px;line-height:20px;color:#1c80b8;font-weight:400;transform-origin:0 0;transform:scaleX(0.9675);">99012805</span>
<span style="position:absolute;white-space:pre;left:204.5px;top:434px;font-size:8.5px;line-height:20px;color:#1c80b8;font-weight:400;transform-origin:0 0;transform:scaleX(0.9040);">Maksaja:</span>
<span style="position:absolute;white-space:pre;left:207.25px;top:446px;font-size:10.5px;line-height:20px;color:#1c80b8;font-weight:400;transform-origin:0 0;transform:scaleX(0.8744);text-decoration:underline;text-underline-offset:1px;text-decoration-thickness:1px;text-decoration-color:#4b9dcb;">Esko Esimerkki</span>
<span style="position:absolute;white-space:pre;left:270.5px;top:446px;font-size:10.5px;line-height:20px;color:#1c80b8;font-weight:400;transform-origin:0 0;transform:scaleX(0.7701);">...</span>
<span style="position:absolute;white-space:pre;left:284px;top:436px;font-size:10.5px;line-height:20px;color:#1c80b8;font-weight:400;transform-origin:0 0;transform:scaleX(0.9493);">72,00 €</span>
<span style="position:absolute;white-space:pre;left:284.3px;top:450px;font-size:10.5px;line-height:20px;color:#1c80b8;font-weight:400;transform-origin:0 0;transform:scaleX(0.9275);">Lasku</span>
<span style="position:absolute;white-space:pre;left:284.3px;top:462px;font-size:8.5px;line-height:20px;color:#1c80b8;font-weight:400;transform-origin:0 0;transform:scaleX(0.9073);">Hammaslääkäri Da...</span>
<span style="position:absolute;white-space:pre;left:383.75px;top:436px;font-size:10.5px;line-height:20px;color:#1c80b8;font-weight:400;transform-origin:0 0;transform:scaleX(0.9461);">0,00 €</span>
<span style="position:absolute;white-space:pre;left:461px;top:436px;font-size:10.5px;line-height:20px;color:#1c80b8;font-weight:400;transform-origin:0 0;transform:scaleX(0.9493);">72,00 €</span>
<span style="position:absolute;white-space:pre;left:518.5px;top:434px;font-size:8.5px;line-height:20px;color:#1c80b8;font-weight:400;transform-origin:0 0;transform:scaleX(0.9137);">Luotu:</span>
<span style="position:absolute;white-space:pre;left:520.5px;top:446px;font-size:10.5px;line-height:20px;color:#1c80b8;font-weight:400;transform-origin:0 0;transform:scaleX(0.9608);">06.04.2016</span>
<span style="position:absolute;white-space:pre;left:518.5px;top:459px;font-size:8.5px;line-height:20px;color:#1c80b8;font-weight:400;transform-origin:0 0;transform:scaleX(0.8769);">Eräpäivä:</span>
<span style="position:absolute;white-space:pre;left:520.5px;top:471px;font-size:10.5px;line-height:20px;color:#1c80b8;font-weight:400;transform-origin:0 0;transform:scaleX(0.9753);">11.04.2016</span>
<span style="position:absolute;white-space:pre;left:610px;top:436px;font-size:11px;line-height:20px;color:#1c80b8;font-weight:400;transform-origin:0 0;transform:scaleX(1.0246);">Avoin</span>
<span style="position:absolute;white-space:pre;left:694.6px;top:441px;font-size:11px;line-height:20px;color:#1a1a1a;font-weight:700;transform-origin:0 0;transform:scaleX(1.0000);letter-spacing:1.35px;">...</span>
<span style="position:absolute;white-space:pre;left:804.1px;top:34px;font-size:12.5px;line-height:20px;color:#1c80b8;font-weight:700;transform-origin:0 0;transform:scaleX(1.0182);">Valinnat (1)</span>
<span style="position:absolute;white-space:pre;left:818.3px;top:70px;font-size:10.5px;line-height:20px;color:#3292cb;font-weight:400;transform-origin:0 0;transform:scaleX(1.0281);">Hammaslääkäri Daniel Dentist Lasku</span>
<span style="position:absolute;white-space:pre;left:818.5px;top:85px;font-size:10.5px;line-height:20px;color:#3292cb;font-weight:400;transform-origin:0 0;transform:scaleX(0.9817);">72,00</span>
<span style="position:absolute;white-space:pre;left:810px;top:170px;font-size:12px;line-height:20px;color:#2473a0;font-weight:400;transform-origin:0 0;transform:scaleX(0.9310);">Suorita valituille</span>
<span style="position:absolute;white-space:pre;left:810px;top:192px;font-size:12px;line-height:20px;color:#11648f;font-weight:400;transform-origin:0 0;transform:scaleX(1.0192);">Kuittaa suoritetuksi/palautetuksi</span>
<span style="position:absolute;white-space:pre;left:810px;top:212px;font-size:12px;line-height:20px;color:#11648f;font-weight:400;transform-origin:0 0;transform:scaleX(0.9994);">Luo maksumuistutus</span>
<span style="position:absolute;white-space:pre;left:810px;top:231px;font-size:12px;line-height:20px;color:#11648f;font-weight:400;transform-origin:0 0;transform:scaleX(0.9901);">Korjaa laskutustapahtumaa</span>
<span style="position:absolute;white-space:pre;left:810px;top:250px;font-size:12px;line-height:20px;color:#7f8c92;font-weight:400;transform-origin:0 0;transform:scaleX(0.9945);">Korjaa maksumuistutusta</span>
<span style="position:absolute;white-space:pre;left:810px;top:269px;font-size:12px;line-height:20px;color:#11648f;font-weight:400;transform-origin:0 0;transform:scaleX(0.9995);">Perintämerkinnän muokkaus</span>
<span style="position:absolute;white-space:pre;left:810px;top:288px;font-size:12px;line-height:20px;color:#11648f;font-weight:400;transform-origin:0 0;transform:scaleX(1.0407);">Merkitse luottotappioksi</span>
<span style="position:absolute;white-space:pre;left:810px;top:307px;font-size:12px;line-height:20px;color:#11648f;font-weight:400;transform-origin:0 0;transform:scaleX(0.9767);">Tulosta</span>
<span style="position:absolute;white-space:pre;left:810px;top:326px;font-size:12px;line-height:20px;color:#11648f;font-weight:400;transform-origin:0 0;transform:scaleX(1.0096);">Viitesuoritusten kirjaus</span>
<span style="position:absolute;white-space:pre;left:810px;top:346px;font-size:12px;line-height:20px;color:#7f8c92;font-weight:400;transform-origin:0 0;transform:scaleX(1.0033);">Kohdista hyvitys avoimiin</span>
<span style="position:absolute;white-space:pre;left:810px;top:365px;font-size:12px;line-height:20px;color:#11648f;font-weight:400;transform-origin:0 0;transform:scaleX(0.9933);">Luo uusi ryhmä</span>
<span style="position:absolute;white-space:pre;left:810px;top:384px;font-size:12px;line-height:20px;color:#11648f;font-weight:400;transform-origin:0 0;transform:scaleX(0.9655);">Lisää ryhmään</span>
<span style="position:absolute;white-space:pre;left:810px;top:403px;font-size:12px;line-height:20px;color:#11648f;font-weight:400;transform-origin:0 0;transform:scaleX(0.9820);">Poista ryhmästä</span>
<span style="position:absolute;white-space:pre;left:810px;top:422px;font-size:12px;line-height:20px;color:#11648f;font-weight:400;transform-origin:0 0;transform:scaleX(1.0110);">Muokkaa ryhmiä</span>
<span style="position:absolute;white-space:pre;left:810px;top:441px;font-size:12px;line-height:20px;color:#11648f;font-weight:400;transform-origin:0 0;transform:scaleX(0.9705);">Vie valitut CSV:ksi</span>
<span style="position:absolute;white-space:pre;left:810px;top:460px;font-size:12px;line-height:20px;color:#11648f;font-weight:400;transform-origin:0 0;transform:scaleX(0.9528);">Vie kaikki CSV:ksi</span>
</body></html>
